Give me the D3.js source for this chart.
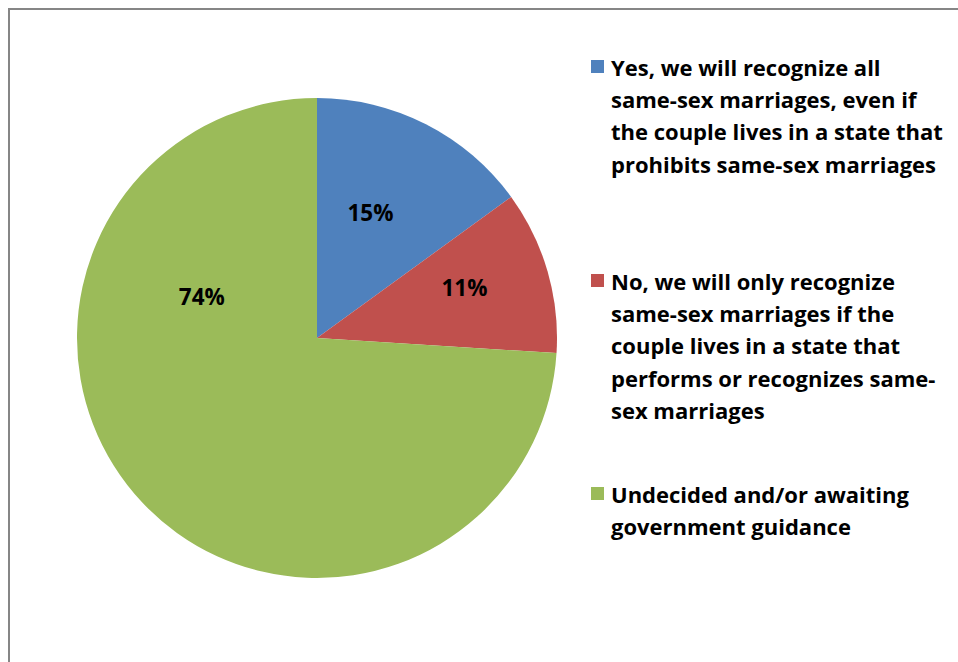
<!DOCTYPE html>
<html>
<head>
<meta charset="utf-8">
<script src="https://cdn.jsdelivr.net/npm/d3@7/dist/d3.min.js"></script>
<style>
  html, body { margin: 0; padding: 0; background: #fff; }
  svg { display: block; }
  text { font-family: "Open Sans", "Liberation Sans", sans-serif; font-weight: 700; fill: #000; }
</style>
</head>
<body>
<svg id="chart" width="958" height="662"></svg>
<script>
// Survey responses on recognition of same-sex marriages
const categories = [
  "Yes, we will recognize all same-sex marriages, even if the couple lives in a state that prohibits same-sex marriages",
  "No, we will only recognize same-sex marriages if the couple lives in a state that performs or recognizes same-sex marriages",
  "Undecided and/or awaiting government guidance"
];
const values = [15, 11, 74];
const legendLines = [
  ["Yes, we will recognize all", "same-sex marriages, even if", "the couple lives in a state that", "prohibits same-sex marriages"],
  ["No, we will only recognize", "same-sex marriages if the", "couple lives in a state that", "performs or recognizes same-", "sex marriages"],
  ["Undecided and/or awaiting", "government guidance"]
];
const colors = ["#4F81BD", "#C0504D", "#9BBB59"];

// Label placement inside each slice: angle shift (radians) from the slice middle and radius fraction
const labelPlacement = [
  { shift: -0.07, rFrac: 0.57 },
  { shift: -0.05, rFrac: 0.65 },
  { shift: 1.1,   rFrac: 0.51 }
];

const svg = d3.select("#chart");

// Chart-area frame
svg.append("rect")
  .attr("x", 9).attr("y", 9)
  .attr("width", 1000).attr("height", 700)
  .attr("fill", "none")
  .attr("stroke", "#868686")
  .attr("stroke-width", 2);

const cx = 317, cy = 338, radius = 240;

const pie = d3.pie().sort(null).value(d => d)
  .startAngle(0).endAngle(2 * Math.PI);
const arcs = pie(values);
const arc = d3.arc().innerRadius(0).outerRadius(radius);

const g = svg.append("g").attr("transform", `translate(${cx},${cy})`);

g.selectAll("path.slice")
  .data(arcs)
  .join("path")
  .attr("class", "slice")
  .attr("d", arc)
  .attr("fill", (d, i) => colors[i]);

g.selectAll("text.pct")
  .data(arcs)
  .join("text")
  .attr("class", "pct")
  .attr("text-anchor", "middle")
  .attr("dominant-baseline", "central")
  .attr("font-size", 22.5)
  .attr("transform", (d, i) => {
    const p = labelPlacement[i];
    const a = (d.startAngle + d.endAngle) / 2 + p.shift;
    const r = radius * p.rFrac;
    return `translate(${Math.sin(a) * r},${-Math.cos(a) * r})`;
  })
  .text(d => d.value + "%");

// Legend
const legendX = 591, lineH = 32.4;
const legendTops = [60, 274, 487];
const legend = svg.append("g");
legendLines.forEach((lines, i) => {
  const item = legend.append("g").attr("transform", `translate(${legendX},${legendTops[i]})`);
  item.append("title").text(categories[i]);
  item.append("rect")
    .attr("x", 0).attr("y", 0)
    .attr("width", 13).attr("height", 13)
    .attr("fill", colors[i]);
  item.selectAll("text")
    .data(lines)
    .join("text")
    .attr("x", 20)
    .attr("y", (d, j) => 15.5 + j * lineH)
    .attr("font-size", 22)
    .text(d => d);
});
</script>
</body>
</html>
